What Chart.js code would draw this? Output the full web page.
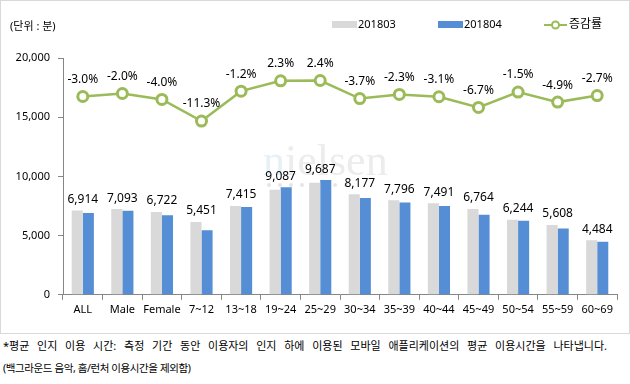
<!DOCTYPE html>
<html>
<head>
<meta charset="utf-8">
<script src="https://cdn.jsdelivr.net/npm/chart.js@4.4.1/dist/chart.umd.min.js"></script>
<style>
  body { margin: 0; background: #fff; font-family: "Noto Sans", "Noto Sans CJK KR", sans-serif; }
  #box { position: relative; width: 628px; height: 332px; border: 1px solid #d9d9d9; }
  .note { font-size: 11px; color: #000; margin-left: 3px; width: 604px; line-height: 22px; }
  .note.first { text-align: justify; text-align-last: justify; margin-top: 1px; }
  .note.second { font-size: 10.5px; letter-spacing: -0.4px; }
</style>
</head>
<body>
<div id="box"><canvas id="chart" width="628" height="332"></canvas></div>
<div class="note first">*평균 인지 이용 시간: 측정 기간 동안 이용자의 인지 하에 이용된 모바일 애플리케이션의 평균 이용시간을 나타냅니다.</div>
<div class="note second">(백그라운드 음악, 홈/런처 이용시간을 제외함)</div>
<script>
const ctx = document.getElementById('chart').getContext('2d');

// data
const categories = ['ALL', 'Male', 'Female', '7~12', '13~18', '19~24', '25~29', '30~34', '35~39', '40~44', '45~49', '50~54', '55~59', '60~69'];
const minutes201803 = [7128, 7238, 7002, 6145, 7505, 8883, 9460, 8491, 7979, 7731, 7250, 6339, 5897, 4608];
const minutes201804 = [6914, 7093, 6722, 5451, 7415, 9087, 9687, 8177, 7796, 7491, 6764, 6244, 5608, 4484];
const changeRate = [-3.0, -2.0, -4.0, -11.3, -1.2, 2.3, 2.4, -3.7, -2.3, -3.1, -6.7, -1.5, -4.9, -2.7];
const yTicks = [0, 5000, 10000, 15000, 20000];

const GRAY = '#d9d9d9';
const BLUE = '#558ed5';
const GREEN = '#9bbb59';
const FONT = '"Noto Sans", "Noto Sans CJK KR", sans-serif';

const fmt = v => v.toLocaleString('en-US');

// labels, legend and watermark drawn on the canvas
const extras = {
    id: 'extras',
    beforeDatasetsDraw(chart) {
        const c = chart.ctx;
        c.save();
        c.font = '44px "Liberation Serif", "DejaVu Serif", serif';
        c.textBaseline = 'alphabetic';
        c.textAlign = 'left';
        c.fillStyle = 'rgba(150, 200, 225, 0.25)';
        c.fillText('n', 262, 174);
        const nW = c.measureText('n').width;
        c.fillStyle = 'rgba(170, 170, 170, 0.22)';
        c.fillText('ielsen', 262 + nW, 174);
        c.fillStyle = 'rgba(170, 170, 170, 0.3)';
        for (let i = 0; i < 8; i++) {
            c.beginPath();
            c.arc(268 + i * 11, 184, 2, 0, Math.PI * 2);
            c.fill();
        }
        c.restore();
    },
    afterDraw(chart) {
        const c = chart.ctx;
        const x = chart.scales.x;
        const y = chart.scales.y;
        const y1 = chart.scales.y1;
        c.save();
        c.fillStyle = '#000';
        c.textAlign = 'center';
        c.textBaseline = 'middle';
        c.font = '12px ' + FONT;
        categories.forEach((cat, i) => {
            const top = Math.max(minutes201803[i], minutes201804[i]);
            c.fillText(fmt(minutes201804[i]), x.getPixelForValue(i), y.getPixelForValue(top) - 11);
            c.fillText(changeRate[i].toFixed(1) + '%', x.getPixelForValue(i), y1.getPixelForValue(changeRate[i]) - 17);
        });

        // unit label
        c.textAlign = 'left';
        c.font = '11px ' + FONT;
        c.fillText('(단위 : 분)', 9, 26);

        // legend
        c.fillStyle = GRAY;
        c.fillRect(331, 20, 25, 7);
        c.fillStyle = BLUE;
        c.fillRect(437, 20, 25, 7);
        c.fillStyle = '#000';
        c.fillText('201803', 357, 24);
        c.fillText('201804', 463, 24);
        c.strokeStyle = GREEN;
        c.lineWidth = 2;
        c.beginPath();
        c.moveTo(543, 24);
        c.lineTo(566, 24);
        c.stroke();
        c.fillStyle = '#fff';
        c.lineWidth = 2;
        c.beginPath();
        c.arc(554.5, 24, 3.5, 0, Math.PI * 2);
        c.fill();
        c.stroke();
        c.fillStyle = '#000';
        c.font = '12px ' + FONT;
        c.fillText('증감률', 568, 24);
        c.restore();
    }
};

new Chart(ctx, {
    data: {
        labels: categories,
        datasets: [
            {
                type: 'line',
                label: '증감률',
                data: changeRate,
                yAxisID: 'y1',
                borderColor: GREEN,
                borderWidth: 2.5,
                pointRadius: 5,
                pointBorderWidth: 3,
                pointBackgroundColor: '#fff',
                pointBorderColor: GREEN,
                tension: 0,
                order: 0
            },
            {
                type: 'bar',
                label: '201803',
                data: minutes201803,
                backgroundColor: GRAY,
                categoryPercentage: 0.56,
                barPercentage: 1.0,
                order: 1
            },
            {
                type: 'bar',
                label: '201804',
                data: minutes201804,
                backgroundColor: BLUE,
                categoryPercentage: 0.56,
                barPercentage: 1.0,
                order: 1
            }
        ]
    },
    options: {
        responsive: false,
        animation: false,
        layout: { padding: { left: 0, right: 12, top: 57, bottom: 14 } },
        plugins: {
            legend: { display: false },
            tooltip: { enabled: false }
        },
        scales: {
            x: {
                offset: true,
                grid: { display: true, drawOnChartArea: false, offset: true, tickLength: 5, color: '#868686' },
                border: { color: '#868686' },
                ticks: { color: '#000', font: { family: FONT, size: 11 }, padding: 3, maxRotation: 0, autoSkip: false }
            },
            y: {
                min: 0,
                max: 20000,
                afterBuildTicks: s => { s.ticks = yTicks.map(v => ({ value: v })); },
                afterFit: s => { s.width = 62; },
                grid: { display: true, drawOnChartArea: false, tickLength: 5, color: '#868686' },
                border: { color: '#868686' },
                ticks: { color: '#000', font: { family: FONT, size: 11 }, padding: 8, callback: v => fmt(v) }
            },
            y1: {
                display: false,
                min: -70,
                max: 10
            }
        }
    },
    plugins: [extras]
});
</script>
</body>
</html>
